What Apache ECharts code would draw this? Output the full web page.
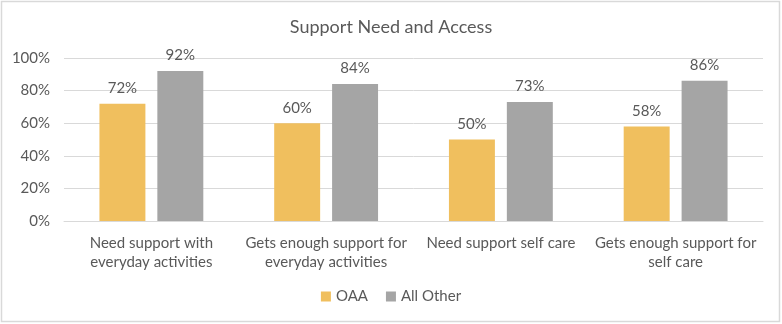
<!DOCTYPE html>
<html>
<head>
<meta charset="utf-8">
<script src="https://cdn.jsdelivr.net/npm/echarts@6/dist/echarts.min.js"></script>
<style>
  html, body { margin: 0; padding: 0; background: #fff; }
  #chart { width: 782px; height: 324px; }
</style>
</head>
<body>
<div id="chart"></div>
<script>
// Survey results: share of respondents, by group
const categories = [
  'Need support with\neveryday activities',
  'Gets enough support for\neveryday activities',
  'Need support self care',
  'Gets enough support for\nself care'
];
const seriesNames = ['OAA', 'All Other'];
const oaaValues = [72, 60, 50, 58];
const allOtherValues = [92, 84, 73, 86];
const yTicks = [0, 20, 40, 60, 80, 100];

const FONT = 'Lato, "Open Sans", sans-serif';
const TEXT = '#595959';
const GRID = '#D9D9D9';

const chart = echarts.init(document.getElementById('chart'), null, { renderer: 'canvas' });

const valueLabel = {
  show: true,
  position: 'top',
  distance: 8,
  formatter: p => p.value + '%',
  color: TEXT,
  fontFamily: FONT,
  fontSize: 15
};

chart.setOption({
  animation: false,
  backgroundColor: '#fff',
  title: {
    text: 'Support Need and Access',
    left: 'center',
    top: 13,
    textStyle: { color: TEXT, fontFamily: FONT, fontSize: 18, fontWeight: 'normal' }
  },
  legend: {
    data: seriesNames,
    bottom: 15,
    left: 'center',
    icon: 'rect',
    itemWidth: 10,
    itemHeight: 10,
    itemGap: 18,
    textStyle: { color: TEXT, fontFamily: FONT, fontSize: 15 }
  },
  grid: { left: 64, right: 19, top: 58, bottom: 103, containLabel: false },
  xAxis: {
    type: 'category',
    data: categories,
    axisLine: { lineStyle: { color: GRID } },
    axisTick: { show: false },
    axisLabel: {
      color: TEXT, fontFamily: FONT, fontSize: 15, margin: 13, lineHeight: 19,
      interval: 0
    }
  },
  yAxis: {
    type: 'value',
    min: yTicks[0],
    max: yTicks[yTicks.length - 1],
    interval: 20,
    axisLine: { show: false },
    axisTick: { show: false },
    splitLine: { lineStyle: { color: GRID } },
    axisLabel: {
      color: TEXT, fontFamily: FONT, fontSize: 15, margin: 14,
      formatter: v => v + '%'
    }
  },
  series: [
    {
      name: seriesNames[0],
      type: 'bar',
      data: oaaValues,
      barWidth: '26.3%',
      barGap: '26%',
      itemStyle: { color: '#F0BF5E' },
      label: valueLabel
    },
    {
      name: seriesNames[1],
      type: 'bar',
      data: allOtherValues,
      barWidth: '26.3%',
      itemStyle: { color: '#A5A5A5' },
      label: valueLabel
    }
  ],
  graphic: [
    {
      type: 'rect',
      shape: { x: 1.5, y: 1.5, width: 778, height: 320 },
      style: { fill: 'none', stroke: '#D9D9D9', lineWidth: 1.5 },
      silent: true
    }
  ]
});
</script>
</body>
</html>
